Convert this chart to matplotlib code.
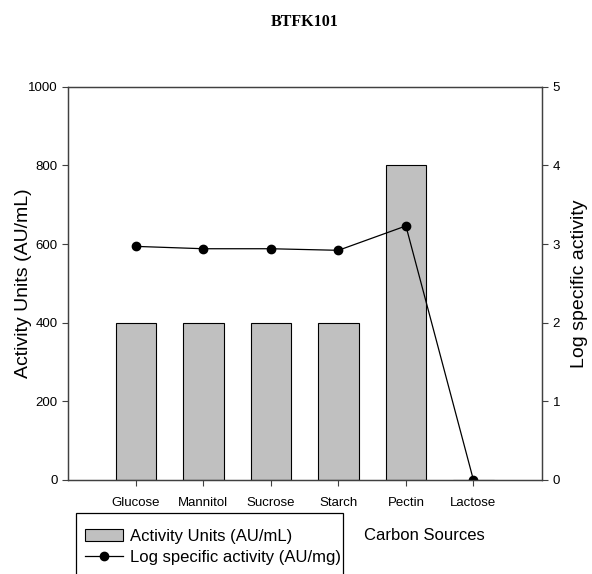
import numpy as np
import matplotlib
matplotlib.use("Agg")
import matplotlib.pyplot as plt
from matplotlib.patches import Rectangle

plt.rcParams['font.family'] = ['Liberation Sans', 'DejaVu Sans']

# данные
sources = ['Glucose', 'Mannitol', 'Sucrose', 'Starch', 'Pectin', 'Lactose']
activity = [400, 400, 400, 400, 800, 0]
log_spec = [2.97, 2.94, 2.94, 2.92, 3.23, 0.0]

pos = np.arange(1, len(sources) + 1)

fig = plt.figure(figsize=(5.92, 5.74), dpi=100)
ax = fig.add_axes([68.3/592, 1 - 480/574, 474/592, 393.3/574])
ax2 = ax.twinx()

bars = ax.bar(pos, activity, width=0.6, color='#c0c0c0', edgecolor='black',
              linewidth=0.8, label='Activity Units (AU/mL)')
line, = ax2.plot(pos, log_spec, color='black', linewidth=0.9, marker='o',
                 markersize=6, label='Log specific activity (AU/mg)')

ax.set_xlim(0, 7.02)
ax.set_ylim(0, 1000)
ax2.set_ylim(0, 5)
ax.set_yticks([0, 200, 400, 600, 800, 1000])
ax2.set_yticks([0, 1, 2, 3, 4, 5])
ax.set_xticks(pos)
ax.set_xticklabels(sources)

for a in (ax, ax2):
    for s in a.spines.values():
        s.set_color('#404040')
        s.set_linewidth(0.9)
    a.tick_params(labelsize=9.5, length=4, width=0.8, color='#404040')
ax.tick_params(axis='x', pad=8)

ax.set_ylabel('Activity Units (AU/mL)', fontsize=14)
ax.yaxis.set_label_coords((32 - 68.3)/474, 0.5)
ax2.set_ylabel('Log specific activity', fontsize=14, labelpad=8)

fig.text(304.5/592, 1 - 21.7/574, 'BTFK101', ha='center', va='center',
         fontsize=11.5, fontweight='bold', family='Liberation Serif')
fig.text(424/592, 1 - 535/574, 'Carbon Sources', ha='center', va='center',
         fontsize=12)

# легенда
fig.patches.append(Rectangle((76/592, -0.05), (343 - 76)/592, 0.05 + 61/574,
                             transform=fig.transFigure, fill=False,
                             edgecolor='black', linewidth=0.9))
fig.legend([bars, line], [bars.get_label(), line.get_label()],
           loc='center left', bbox_to_anchor=(85/592, 1 - 547/574),
           frameon=False, fontsize=12, borderpad=0, handlelength=2.3,
           handletextpad=0.4, labelspacing=0.38, borderaxespad=0)

fig.savefig('out.png', dpi=100)
